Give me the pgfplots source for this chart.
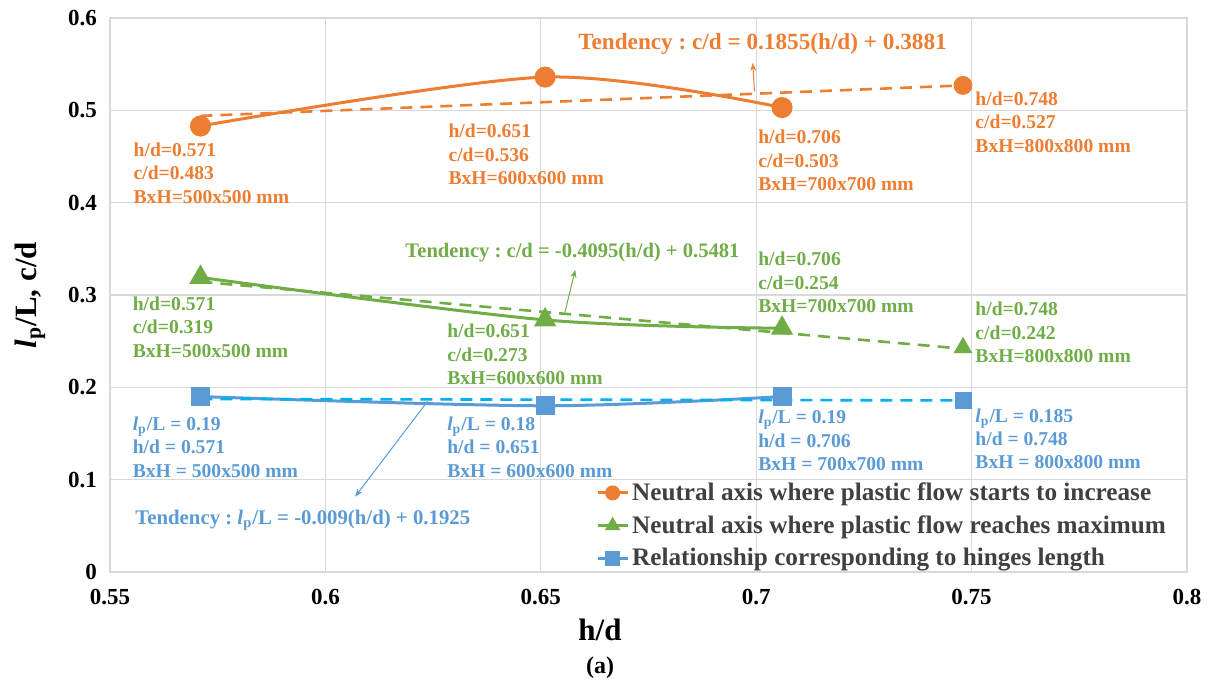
\documentclass[border=0pt]{standalone}
\usepackage{fontspec}
\setmainfont{Liberation Serif}
\usepackage{pgfplots}
\pgfplotsset{compat=1.18}
\usetikzlibrary{arrows.meta}

\definecolor{cOr}{HTML}{ED7D31}
\definecolor{cGr}{HTML}{70AD47}
\definecolor{cBl}{HTML}{5B9BD5}
\definecolor{cCy}{HTML}{00B0F0}
\definecolor{cGrid}{HTML}{D9D9D9}
\definecolor{cTxt}{HTML}{404040}

\tikzset{
  ann/.style={anchor=north west, align=left, inner sep=0pt,
    font=\fontsize{9.8}{11.7}\selectfont\bfseries},
  tend/.style={anchor=west, inner sep=0pt, font=\bfseries},
  arr/.style={-{Stealth[length=4pt,width=3pt]}, line width=0.5pt},
}

\begin{document}
\frenchspacing
\begin{tikzpicture}
\begin{axis}[
    scale only axis,
    width=538.5pt, height=277pt,
    xmin=0.55, xmax=0.8, ymin=0, ymax=0.6,
    xtick={0.55,0.6,0.65,0.7,0.75,0.8},
    xticklabels={0.55,0.6,0.65,0.7,0.75,0.8},
    ytick={0,0.1,0.2,0.3,0.4,0.5,0.6},
    yticklabels={0,0.1,0.2,0.3,0.4,0.5,0.6},
    tick label style={font=\fontsize{11.5}{12}\selectfont\bfseries},
    xticklabel style={yshift=-5pt},
    yticklabel style={xshift=-3pt},
    major tick length=0pt,
    xmajorgrids, ymajorgrids,
    major grid style={cGrid, line width=0.6pt},
    axis line style={cGrid, line width=0.8pt},
    clip=false,
    xlabel={h/d},
    ylabel={\textit{l}\textsubscript{p}/L, c/d},
    label style={font=\fontsize{15.5}{17}\selectfont\bfseries},
    xlabel style={at={(axis description cs:0.455,0)}, anchor=center, yshift=-29pt},
    ylabel style={at={(axis description cs:-0.0743,0.5)}, anchor=center},
    legend style={at={(rel axis cs:0.451,0.1657)}, anchor=north west,
        draw=none, fill=none, inner sep=0pt, row sep=4pt,
        nodes={inner xsep=1.5pt, inner ysep=1pt},
        font=\fontsize{12.6}{14}\selectfont\bfseries, text=cTxt,
        cells={anchor=west}},
    legend image code/.code={
        \draw[mark repeat=2, mark phase=2, #1, mark size=3pt]
        plot coordinates {(0pt,0pt) (7.5pt,0pt) (15pt,0pt)};},
]
% main series (smoothed)
\addplot[cOr, line width=1.5pt, smooth, mark=*, mark size=4.5pt]
    coordinates {(0.571,0.483) (0.651,0.536) (0.706,0.503)};
\addlegendentry{Neutral axis where plastic flow starts to increase}
\addplot[cGr, line width=1.5pt, smooth, mark=triangle*, mark size=5pt]
    coordinates {(0.571,0.319) (0.651,0.273) (0.706,0.264)};
\addlegendentry{Neutral axis where plastic flow reaches maximum}
\addplot[cBl, line width=1.5pt, smooth, mark=square*, mark size=4pt]
    coordinates {(0.571,0.190) (0.651,0.180) (0.706,0.190)};
\addlegendentry{Relationship corresponding to hinges length}

% trend lines
\addplot[cOr, line width=1.3pt, dash pattern=on 6pt off 4pt, forget plot]
    coordinates {(0.571,0.494) (0.748,0.527)};
\addplot[cGr, line width=1.3pt, dash pattern=on 6pt off 4pt, forget plot]
    coordinates {(0.571,0.3143) (0.748,0.2418)};
\addplot[cCy, line width=1.3pt, dash pattern=on 6pt off 4pt, forget plot]
    coordinates {(0.571,0.1874) (0.748,0.1858)};

% isolated last points
\addplot[cOr, only marks, mark=*, mark size=4.5pt, forget plot]
    coordinates {(0.748,0.527)};
\addplot[cGr, only marks, mark=triangle*, mark size=5pt, forget plot]
    coordinates {(0.748,0.243)};
\addplot[cBl, only marks, mark=square*, mark size=4pt, forget plot]
    coordinates {(0.748,0.1855)};

% orange labels
\node[ann, text=cOr] at (axis cs:0.5554,0.4653) {h/d=0.571\\c/d=0.483\\BxH=500x500 mm};
\node[ann, text=cOr] at (axis cs:0.6285,0.4852) {h/d=0.651\\c/d=0.536\\BxH=600x600 mm};
\node[ann, text=cOr] at (axis cs:0.7004,0.479) {h/d=0.706\\c/d=0.503\\BxH=700x700 mm};
\node[ann, text=cOr] at (axis cs:0.7508,0.5205) {h/d=0.748\\c/d=0.527\\BxH=800x800 mm};
\node[tend, text=cOr, font=\fontsize{11.6}{13}\selectfont\bfseries] at (axis cs:0.6586,0.5722)
    {Tendency : c/d = 0.1855(h/d) + 0.3881};
\draw[arr, cOr] (axis cs:0.6996,0.5205) -- (axis cs:0.6992,0.5513);

% green labels
\node[ann, text=cGr] at (axis cs:0.5552,0.2985) {h/d=0.571\\c/d=0.319\\BxH=500x500 mm};
\node[ann, text=cGr] at (axis cs:0.6282,0.2686) {h/d=0.651\\c/d=0.273\\BxH=600x600 mm};
\node[ann, text=cGr] at (axis cs:0.7004,0.3467) {h/d=0.706\\c/d=0.254\\BxH=700x700 mm};
\node[ann, text=cGr] at (axis cs:0.7508,0.2927) {h/d=0.748\\c/d=0.242\\BxH=800x800 mm};
\node[tend, text=cGr, font=\fontsize{10.3}{12}\selectfont\bfseries] at (axis cs:0.6185,0.3455)
    {Tendency : c/d = -0.4095(h/d) + 0.5481};
\draw[arr, cGr] (axis cs:0.6556,0.2812) -- (axis cs:0.658,0.3274);

% blue labels
\node[ann, text=cBl] at (axis cs:0.5552,0.1685) {\textit{l}\textsubscript{p}/L = 0.19\\h/d = 0.571\\BxH = 500x500 mm};
\node[ann, text=cBl] at (axis cs:0.6282,0.1685) {\textit{l}\textsubscript{p}/L = 0.18\\h/d = 0.651\\BxH = 600x600 mm};
\node[ann, text=cBl] at (axis cs:0.7004,0.1758) {\textit{l}\textsubscript{p}/L = 0.19\\h/d = 0.706\\BxH = 700x700 mm};
\node[ann, text=cBl] at (axis cs:0.7508,0.1776) {\textit{l}\textsubscript{p}/L = 0.185\\h/d = 0.748\\BxH = 800x800 mm};
\node[tend, text=cBl, font=\fontsize{10.4}{12}\selectfont\bfseries] at (axis cs:0.5558,0.0556)
    {Tendency : \textit{l}\textsubscript{p}/L = -0.009(h/d) + 0.1925};
\draw[arr, cBl] (axis cs:0.6237,0.1848) -- (axis cs:0.6069,0.0816);

% caption
\node[font=\fontsize{12}{14}\selectfont\bfseries] at (axis description cs:0.455,0) [yshift=-48pt] {(a)};
\end{axis}
\path ([shift={(-55pt,-56pt)}]current axis.south west)
    rectangle ([shift={(14pt,9pt)}]current axis.north east);
\end{tikzpicture}
\end{document}
